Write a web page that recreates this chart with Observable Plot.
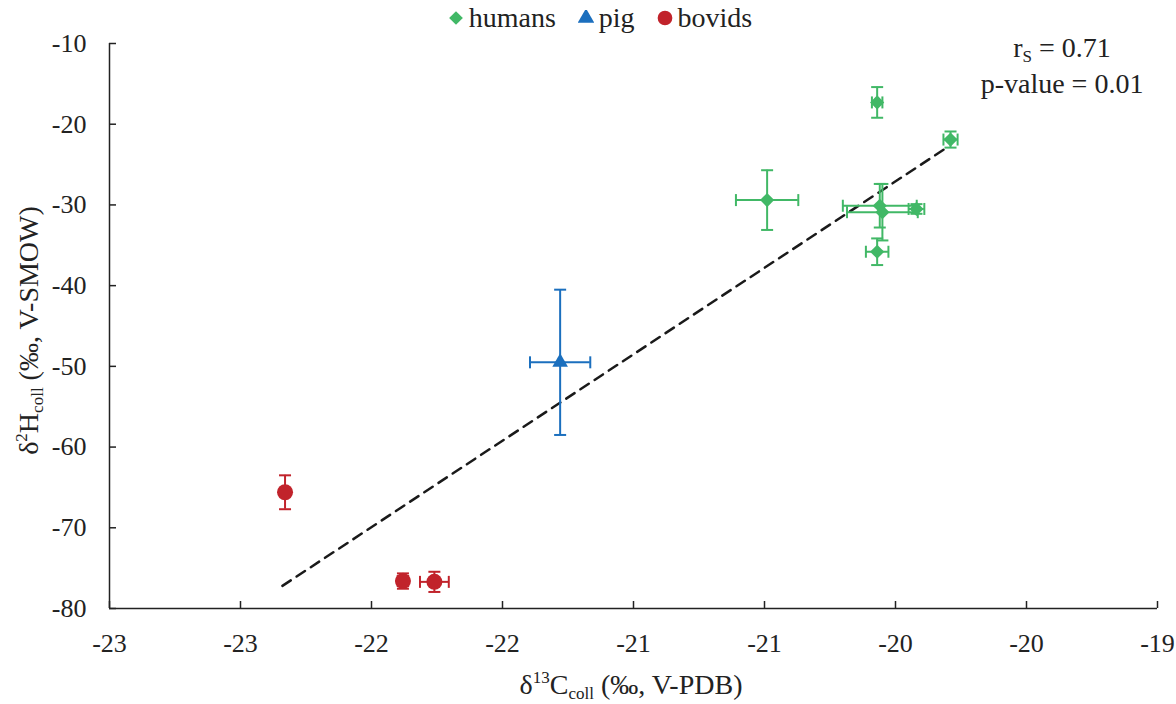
<!DOCTYPE html>
<html>
<head>
<meta charset="utf-8">
<script src="https://cdn.jsdelivr.net/npm/d3@7"></script>
<script src="https://cdn.jsdelivr.net/npm/@observablehq/plot@0.6"></script>
<style>
  html, body { margin: 0; padding: 0; background: #fff; }
  body { width: 1176px; height: 704px; overflow: hidden; position: relative; font-family: 'Liberation Serif', 'Times New Roman', 'DejaVu Serif', serif; color: #222; }
  #legend { position: absolute; left: 0; top: 0; width: 1176px; height: 36px; display: flex; justify-content: center; align-items: center; gap: 22px; font-size: 28px; padding-left: 24px; box-sizing: border-box; z-index: 2; }
  #legend .item { display: flex; align-items: center; gap: 5px; }
  #legend svg { display: block; }
  #chart { position: absolute; left: 0; top: 0; }
</style>
</head>
<body>
<div id="chart"></div>
<div id="legend"></div>
<script>
// ---- data ----
const groups = ["humans", "pig", "bovids"];
const groupColors = ["#41b866", "#1b6fbe", "#c1232b"];
const groupSymbols = ["diamond2", "triangle", "circle"];

const humansX    = [-20.07, -19.79, -20.49, -20.06, -20.05, -19.92, -20.07];
const humansY    = [-17.3, -21.9, -29.4, -30.1, -30.9, -30.5, -35.8];
const humansXErr = [0.02, 0.027, 0.119, 0.141, 0.135, 0.03, 0.043];
const humansYErr = [1.9, 1.0, 3.7, 2.7, 3.5, 0.6, 1.65];

const pigX    = [-21.28];
const pigY    = [-49.5];
const pigXErr = [0.115];
const pigYErr = [9.0];

const bovidsX    = [-22.33, -21.88, -21.76];
const bovidsY    = [-65.6, -76.6, -76.7];
const bovidsXErr = [0.01, 0.02, 0.055];
const bovidsYErr = [2.1, 0.95, 1.25];

const trendX = [-22.34, -19.80];
const trendY = [-77.2, -22.8];

const xTicks = [-23, -22.5, -22, -21.5, -21, -20.5, -20, -19.5, -19];
const xTickLabels = ["-23", "-23", "-22", "-22", "-21", "-21", "-20", "-20", "-19"];
const yTicks = [-80, -70, -60, -50, -40, -30, -20, -10];
const yTickLabels = ["-80", "-70", "-60", "-50", "-40", "-30", "-20", "-10"];

const statR = "0.71";
const statP = "0.01";

// ---- build table ----
const rows = [];
function addGroup(name, xs, ys, xe, ye) {
  xs.forEach((x, i) => rows.push({group: name, x, y: ys[i], xe: xe[i], ye: ye[i]}));
}
addGroup("humans", humansX, humansY, humansXErr, humansYErr);
addGroup("pig", pigX, pigY, pigXErr, pigYErr);
addGroup("bovids", bovidsX, bovidsY, bovidsXErr, bovidsYErr);
const trend = trendX.map((x, i) => ({x, y: trendY[i]}));

const colorOf = g => groupColors[groups.indexOf(g)];

// cap symbols (fixed-size segments)
const hCap = {draw(ctx) { ctx.moveTo(-6, 0); ctx.lineTo(6, 0); }};
const vCap = {draw(ctx) { ctx.moveTo(0, -6); ctx.lineTo(0, 6); }};

const FONT = "'Liberation Serif', 'Times New Roman', 'DejaVu Serif', serif";
const axisColor = "#222";

const chart = Plot.plot({
  width: 1176,
  height: 704,
  marginTop: 43,
  marginBottom: 96,
  marginLeft: 109,
  marginRight: 19,
  style: {fontFamily: FONT, fontSize: "26px", color: "#222", background: "#fff", overflow: "visible"},
  x: {domain: [-23, -19], label: null},
  y: {domain: [-80, -10], label: null},
  marks: [
    // axes lines
    Plot.ruleX([-23], {stroke: axisColor, strokeWidth: 1.5}),
    Plot.ruleY([-80], {stroke: axisColor, strokeWidth: 1.5}),
    // inward ticks
    Plot.axisY({ticks: yTicks, tickSize: -7, tickFormat: () => "", stroke: axisColor, strokeWidth: 1.5}),
    Plot.axisX({ticks: xTicks, tickSize: -7, tickFormat: () => "", stroke: axisColor, strokeWidth: 1.5}),
    // labels
    Plot.axisY({ticks: yTicks, tickSize: 0, tickPadding: 23, tickFormat: d => yTickLabels[yTicks.indexOf(d)], fontSize: 26, fill: "#222"}),
    Plot.axisX({ticks: xTicks, tickSize: 0, tickPadding: 25, tickFormat: d => xTickLabels[xTicks.indexOf(d)], fontSize: 26, fill: "#222"}),
    // trend line
    Plot.line(trend, {x: "x", y: "y", stroke: "#1a1a1a", strokeWidth: 2.5, strokeDasharray: "10,7"}),
    // error bars
    Plot.ruleX(rows, {x: "x", y1: d => d.y - d.ye, y2: d => d.y + d.ye, stroke: d => colorOf(d.group), strokeWidth: 2}),
    Plot.ruleY(rows, {y: "y", x1: d => d.x - d.xe, x2: d => d.x + d.xe, stroke: d => colorOf(d.group), strokeWidth: 2}),
    Plot.dot(rows, {x: "x", y: d => d.y - d.ye, symbol: () => hCap, stroke: d => colorOf(d.group), strokeWidth: 2, fill: "none"}),
    Plot.dot(rows, {x: "x", y: d => d.y + d.ye, symbol: () => hCap, stroke: d => colorOf(d.group), strokeWidth: 2, fill: "none"}),
    Plot.dot(rows, {x: d => d.x - d.xe, y: "y", symbol: () => vCap, stroke: d => colorOf(d.group), strokeWidth: 2, fill: "none"}),
    Plot.dot(rows, {x: d => d.x + d.xe, y: "y", symbol: () => vCap, stroke: d => colorOf(d.group), strokeWidth: 2, fill: "none"}),
    // markers
    Plot.dot(rows.filter(d => d.group === "humans"), {x: "x", y: "y", symbol: "diamond2", r: 6.4, fill: colorOf("humans"), stroke: "none"}),
    Plot.dot(rows.filter(d => d.group === "pig"), {x: "x", y: "y", symbol: "triangle", r: 5.8, fill: colorOf("pig"), stroke: "none"}),
    Plot.dot(rows.filter(d => d.group === "bovids"), {x: "x", y: "y", symbol: "circle", r: 8, fill: colorOf("bovids"), stroke: "none"})
  ]
});

document.getElementById("chart").appendChild(chart);

// ---- titles and annotation (text with sub/superscripts) ----
const svg = d3.select(chart);
const xs = chart.scale("x"), ys = chart.scale("y");
const cx = (xs.range[0] + xs.range[1]) / 2;
const cy = (ys.range[0] + ys.range[1]) / 2;

const xt = svg.append("text")
  .attr("x", cx - 2).attr("y", 694)
  .attr("text-anchor", "middle")
  .attr("font-family", FONT).attr("font-size", 28).attr("fill", "#222");
xt.append("tspan").text("δ");
xt.append("tspan").attr("font-size", 17).attr("dy", -11).text("13");
xt.append("tspan").attr("dy", 11).text("C");
xt.append("tspan").attr("font-size", 17).attr("dy", 5).text("coll");
xt.append("tspan").attr("dy", -5).text(" (‰, V-PDB)");

const yt = svg.append("text")
  .attr("transform", `translate(38,${cy + 5}) rotate(-90)`)
  .attr("text-anchor", "middle")
  .attr("font-family", FONT).attr("font-size", 28).attr("fill", "#222");
yt.append("tspan").text("δ");
yt.append("tspan").attr("font-size", 17).attr("dy", -11).text("2");
yt.append("tspan").attr("dy", 11).text("H");
yt.append("tspan").attr("font-size", 17).attr("dy", 5).text("coll");
yt.append("tspan").attr("dy", -5).text(" (‰, V-SMOW)");

const a1 = svg.append("text")
  .attr("x", 1062).attr("y", 57)
  .attr("text-anchor", "middle")
  .attr("font-family", FONT).attr("font-size", 28).attr("fill", "#222");
a1.append("tspan").text("r");
a1.append("tspan").attr("font-size", 17).attr("dy", 5).text("S");
a1.append("tspan").attr("dy", -5).text(" = " + statR);

svg.append("text")
  .attr("x", 1062).attr("y", 93)
  .attr("text-anchor", "middle")
  .attr("font-family", FONT).attr("font-size", 28).attr("fill", "#222")
  .text("p-value = " + statP);

// ---- legend ----
const legend = d3.select("#legend");
groups.forEach((g, i) => {
  const item = legend.append("div").attr("class", "item");
  const s = item.append("svg").attr("width", 16).attr("height", 16);
  s.append("path")
    .attr("transform", "translate(8,8)")
    .attr("d", d3.symbol(i === 0 ? d3.symbolDiamond2 : i === 1 ? d3.symbolTriangle : d3.symbolCircle, i === 2 ? 170 : 120)())
    .attr("fill", groupColors[i]);
  item.append("span").text(g);
});
</script>
</body>
</html>
